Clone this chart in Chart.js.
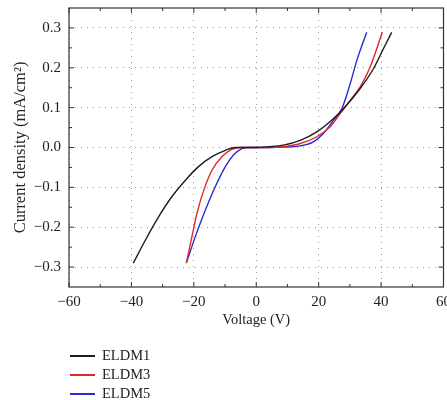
<!DOCTYPE html>
<html>
<head>
<meta charset="utf-8">
<script src="https://cdn.jsdelivr.net/npm/chart.js@4"></script>
<style>
  html, body { margin: 0; padding: 0; background: #fff; overflow: hidden; }
  #wrap { position: relative; width: 447px; height: 400px; overflow: hidden; }
  #box { position: absolute; left: 0; top: -9px; width: 460px; height: 409px; }
  .legend { position: absolute; left: 70px; font: 14.5px "Liberation Serif", "DejaVu Serif", serif; color: #222; }
  .legend div { position: relative; height: 19px; line-height: 19px; padding-left: 32px; }
  .legend span { position: absolute; left: 0; top: 9px; width: 25px; height: 1.5px; }
</style>
</head>
<body>
<div id="wrap">
  <div id="box"><canvas id="chart"></canvas></div>
  <div class="legend" id="legend" style="top: 346px;"></div>
</div>
<script>
const seriesNames = ['ELDM1', 'ELDM3', 'ELDM5'];
const seriesColors = ['#1e1e1e', '#e0282a', '#2b2bd6'];

const eldm1X = [-39.4, -35.5, -31.3, -27, -22.7, -18.5, -14.2, -9.9, -6.7, -3, 0, 4, 8.7, 14.1, 19.4, 24.7, 27.9, 33.3, 37.5, 40.7, 43.4];
const eldm1Y = [-0.29, -0.232, -0.174, -0.123, -0.082, -0.048, -0.023, -0.007, 0, 0, 0, 0.002, 0.006, 0.018, 0.039, 0.072, 0.097, 0.148, 0.197, 0.247, 0.289];

const eldm3X = [-22.4, -20.6, -19, -16.8, -14.2, -11, -7.8, -5.1, 0, 4, 8.7, 14.1, 19.4, 23.7, 26.9, 30.1, 33.3, 36.5, 40.4];
const eldm3Y = [-0.29, -0.223, -0.165, -0.107, -0.057, -0.023, -0.005, 0, 0, 0, 0.002, 0.01, 0.027, 0.052, 0.085, 0.118, 0.152, 0.202, 0.289];

const eldm5X = [-22.4, -19.5, -16.3, -13.1, -9.9, -7.3, -4.6, -2.5, 0, 4, 8.7, 14.1, 18.3, 21.5, 24.7, 27.4, 30.1, 32.2, 35.4];
const eldm5Y = [-0.29, -0.223, -0.157, -0.098, -0.048, -0.019, -0.003, 0, 0, 0, 0.001, 0.004, 0.014, 0.035, 0.068, 0.097, 0.16, 0.218, 0.289];

const xTicks = [-60, -40, -20, 0, 20, 40, 60];
const xMinorTicks = [-50, -30, -10, 10, 30, 50];
const yTicks = [-0.3, -0.2, -0.1, 0.0, 0.1, 0.2, 0.3];
const yMinorTicks = [-0.25, -0.15, -0.05, 0.05, 0.15, 0.25];

const FONT = '"Liberation Serif", "DejaVu Serif", serif';

function toPoints(xs, ys) {
  return xs.map((x, i) => ({ x, y: ys[i] }));
}

function minus(s) {
  return String(s).replace('-', '\u2212');
}

// frame box + inward ticks on all four sides
const framePlugin = {
  id: 'frame',
  afterDraw(chart) {
    const { ctx, chartArea: a, scales: { x, y } } = chart;
    ctx.save();
    ctx.strokeStyle = '#333';
    ctx.lineWidth = 1.2;
    ctx.strokeRect(a.left, a.top, a.right - a.left, a.bottom - a.top);
    ctx.lineWidth = 1;
    const tick = (vals, len) => {
      vals.forEach(v => {
        const px = x.getPixelForValue(v);
        ctx.beginPath();
        ctx.moveTo(px, a.bottom); ctx.lineTo(px, a.bottom - len);
        ctx.moveTo(px, a.top); ctx.lineTo(px, a.top + len);
        ctx.stroke();
      });
    };
    const tickY = (vals, len) => {
      vals.forEach(v => {
        const py = y.getPixelForValue(v);
        ctx.beginPath();
        ctx.moveTo(a.left, py); ctx.lineTo(a.left + len, py);
        ctx.moveTo(a.right, py); ctx.lineTo(a.right - len, py);
        ctx.stroke();
      });
    };
    tick(xTicks, 5);
    tick(xMinorTicks, 3);
    tickY(yTicks, 5);
    tickY(yMinorTicks, 3);
    ctx.restore();
  }
};

const datasets = [
  toPoints(eldm1X, eldm1Y),
  toPoints(eldm3X, eldm3Y),
  toPoints(eldm5X, eldm5Y)
].map((pts, i) => ({
  label: seriesNames[i],
  data: pts,
  showLine: true,
  borderColor: seriesColors[i],
  backgroundColor: seriesColors[i],
  borderWidth: 1.4,
  pointRadius: 0,
  cubicInterpolationMode: 'monotone'
}));

new Chart(document.getElementById('chart'), {
  type: 'scatter',
  data: { datasets },
  plugins: [framePlugin],
  options: {
    responsive: true,
    maintainAspectRatio: false,
    animation: false,
    layout: { padding: { top: 0, right: 16.5, bottom: 68, left: 0 } },
    plugins: { legend: { display: false }, tooltip: { enabled: false } },
    scales: {
      x: {
        type: 'linear', min: -60, max: 60,
        afterBuildTicks: s => { s.ticks = xTicks.map(v => ({ value: v })); },
        afterFit: s => { s.height = 45; },
        grid: { color: '#9a9a9a', lineWidth: 1, drawTicks: false },
        border: { display: false, dash: [1, 5] },
        ticks: { padding: 6, color: '#222', font: { family: FONT, size: 15 }, callback: v => minus(v), maxRotation: 0 },
        title: { display: true, text: 'Voltage (V)', color: '#222', font: { family: FONT, size: 14.5 }, padding: { top: 0, bottom: 3 } }
      },
      y: {
        type: 'linear', min: -0.35, max: 0.35,
        afterBuildTicks: s => { s.ticks = yTicks.map(v => ({ value: v })); },
        afterFit: s => { s.width = 69; },
        grid: { color: '#9a9a9a', lineWidth: 1, drawTicks: false },
        border: { display: false, dash: [1, 5] },
        ticks: { padding: 8, color: '#222', font: { family: FONT, size: 15 }, callback: v => minus(v.toFixed(1)) },
        title: { display: true, text: 'Current density (mA/cm\u00B2)', color: '#222', font: { family: FONT, size: 16.5 }, padding: { top: 11, bottom: 0 } }
      }
    }
  }
});

document.getElementById('legend').innerHTML = seriesNames.map((n, i) =>
  `<div><span style="background:${seriesColors[i]}"></span>${n}</div>`).join('');
</script>
</body>
</html>
